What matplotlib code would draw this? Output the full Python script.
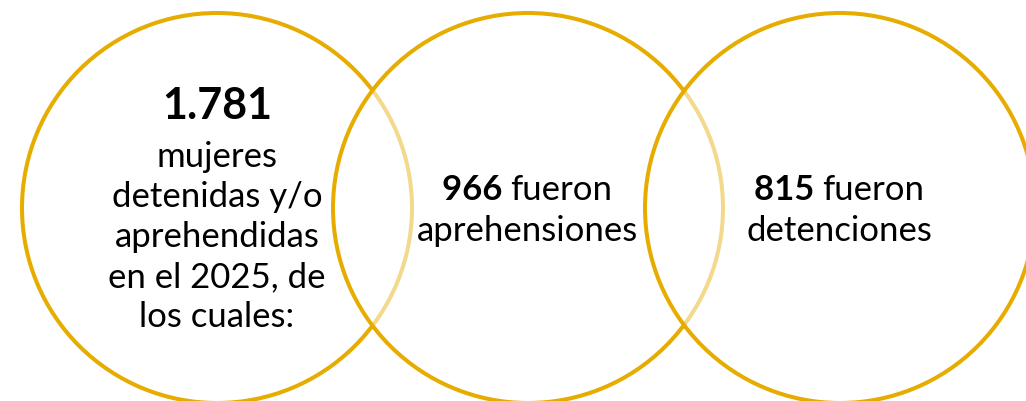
import matplotlib.pyplot as plt
from matplotlib.patches import Circle

# datos
valores = [1781, 966, 815]
textos = [
    ["mujeres", "detenidas y/o", "aprehendidas", "en el 2025, de", "los cuales:"],
    ["fueron", "aprehensiones"],
    ["fueron", "detenciones"],
]

ORO = "#E6AC00"
FUENTE = ["Lato", "DejaVu Sans"]

fig = plt.figure(figsize=(10.26, 4.02), dpi=100)
ax = fig.add_axes([0, 0, 1, 1])
ax.set_xlim(0, 1026)
ax.set_ylim(402, 0)
ax.set_aspect("equal")
ax.axis("off")

cx = [217, 528, 840]
cy = 209
r = 195

# circulos: cada uno tapa a medias el borde del anterior
for i, x in enumerate(cx):
    ax.add_patch(Circle((x, cy), r, facecolor=(1, 1, 1, 0.55),
                        edgecolor=ORO, linewidth=2.9, zorder=i + 1))

def fmt(v):
    return f"{v:,}".replace(",", ".")

renderer = fig.canvas.get_renderer()

def linea_mixta(x, y, negrita, normal, size):
    # numero en negrita + texto normal, centrado en x
    t1 = ax.text(0, y, negrita + " ", fontsize=size, fontweight="bold",
                 family=FUENTE, va="center", ha="left", zorder=10)
    t2 = ax.text(0, y, normal, fontsize=size, family=FUENTE,
                 va="center", ha="left", zorder=10)
    inv = ax.transData.inverted()
    b1 = t1.get_window_extent(renderer)
    b2 = t2.get_window_extent(renderer)
    w1 = inv.transform((b1.x1, 0))[0] - inv.transform((b1.x0, 0))[0]
    w2 = inv.transform((b2.x1, 0))[0] - inv.transform((b2.x0, 0))[0]
    x0 = x - (w1 + w2) / 2
    t1.set_x(x0)
    t2.set_x(x0 + w1)

# circulo 1
ax.text(cx[0], 106, fmt(valores[0]), fontsize=31, fontweight="bold",
        family=FUENTE, ha="center", va="center", zorder=10)
for k, s in enumerate(textos[0]):
    ax.text(cx[0], 157 + 40 * k, s, fontsize=25, family=FUENTE,
            ha="center", va="center", zorder=10)

# circulos 2 y 3
for i in (1, 2):
    linea_mixta(cx[i] - 1, 190, fmt(valores[i]), textos[i][0], 25)
    ax.text(cx[i] - 1, 231, textos[i][1], fontsize=25, family=FUENTE,
            ha="center", va="center", zorder=10)

fig.savefig("out.png", dpi=100, facecolor="white")
